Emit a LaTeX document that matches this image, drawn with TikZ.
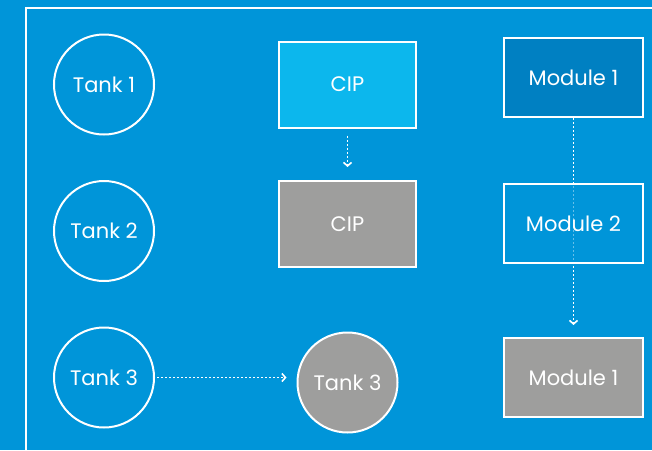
\documentclass[tikz,border=0pt]{standalone}
\usepackage{fontspec}
\setmainfont{Poppins}
\usetikzlibrary{arrows.meta,positioning}
\definecolor{hpblue}{RGB}{0,149,217}
\definecolor{ciplight}{RGB}{12,183,237}
\definecolor{moddark}{RGB}{0,128,194}
\definecolor{idlegray}{RGB}{158,158,157}

\begin{document}
\begin{tikzpicture}[x=1pt,y=-1pt,->,>={Straight Barb[length=3.5pt,width=8pt]},thick]
\tikzset{
  every node/.style={text=white,font=\fontsize{21}{25}\selectfont},
  tank/.style={shape=circle,draw=white,line width=2pt,minimum size=100pt,inner sep=0pt},
  unit/.style={shape=rectangle,draw=white,line width=2pt,inner sep=0pt},
  cipbox/.style={unit,minimum width=137pt,minimum height=86pt},
  modbox/.style={unit,minimum width=139pt,minimum height=79pt},
  flow/.style={white,line width=1.6pt,dash pattern=on 2pt off 2pt}
}
\fill[hpblue] (0,0) rectangle (652,450);
\useasboundingbox (0,0) rectangle (652,450);
\draw[-,white,line width=2pt] (26,452) -- (26,8) -- (654,8);

\node[tank]             (T1) at (104,84.5)  {Tank 1};
\node[tank]             (T2) [below of=T1,node distance=146.5pt] {Tank 2};
\node[tank]             (T3) [below of=T2,node distance=146.5pt] {Tank 3};
\node[tank,fill=idlegray] (T3g) at (347.5,382.5) {Tank 3};

\node[cipbox,fill=ciplight] (C1) [right of=T1,node distance=243.5pt] {CIP};
\node[cipbox,fill=idlegray] (C2) [below of=C1,node distance=139.5pt] {CIP};

\node[modbox,fill=moddark]  (M1)  at (573.5,77.5) {Module 1};
\node[modbox,fill=idlegray] (M1g) [below of=M1,node distance=300pt] {Module 1};

\path[flow]
(T3.east) edge[shorten <=2pt,shorten >=10pt] (T3.east -| T3g.west)
(C1.south) edge[shorten <=7pt,shorten >=13pt] (C2.north)
(M1.south) edge[shorten >=12pt] (M1g.north);

\node[modbox,fill=hpblue,fill opacity=0.6,text opacity=1] (M2) [below of=M1,node distance=146pt] {Module 2};
\end{tikzpicture}
\end{document}
